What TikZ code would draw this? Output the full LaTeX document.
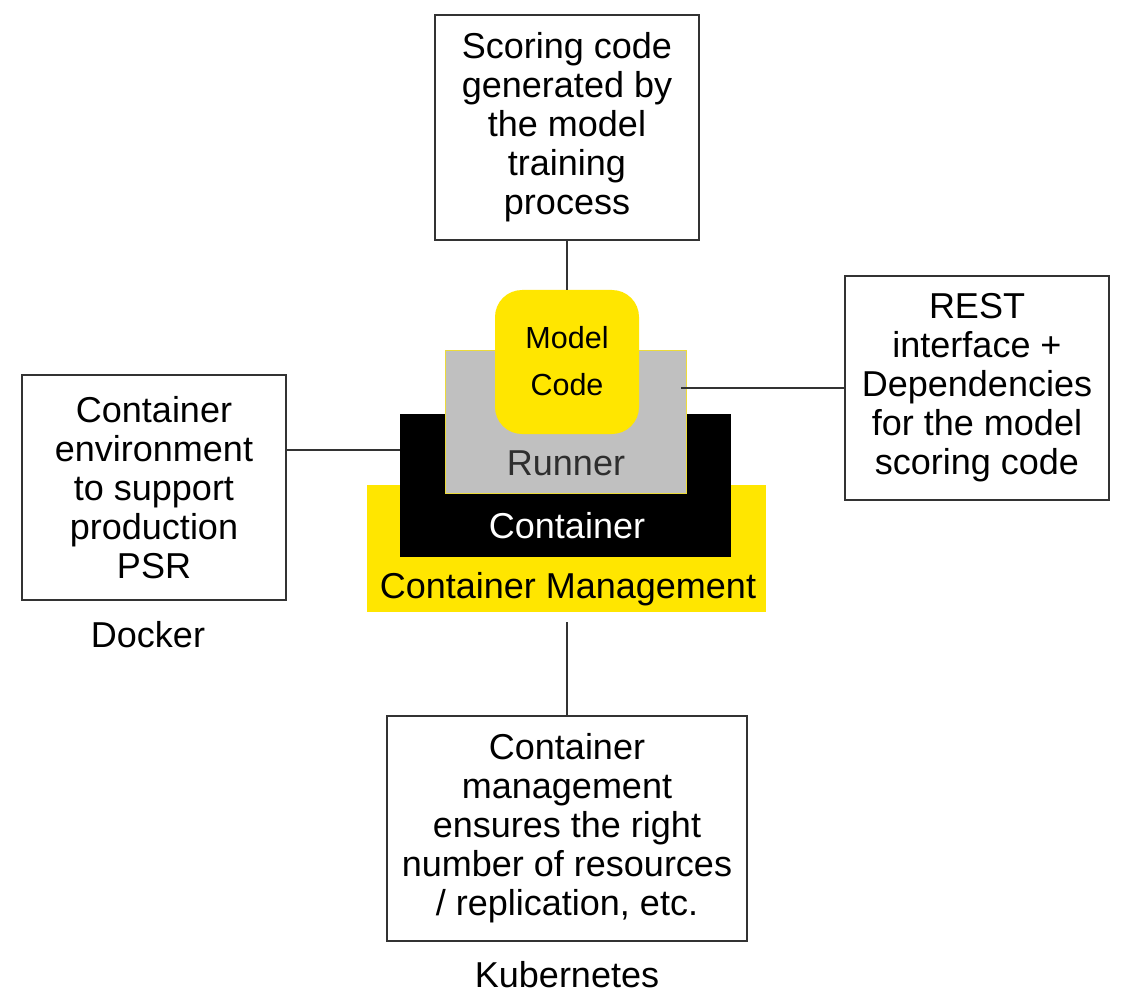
\documentclass[tikz,border=0pt]{standalone}
\usepackage{fontspec}
\setmainfont{Liberation Sans}
\definecolor{eyyellow}{HTML}{FFE600}
\definecolor{runnergray}{HTML}{C0C0C0}
\definecolor{linegray}{HTML}{333333}
\definecolor{runnertext}{HTML}{2E2E2E}
\begin{document}
\begin{tikzpicture}[x=1pt,y=-1pt,
  infobox/.style={draw=linegray, line width=1.2pt, fill=white, inner sep=0pt, align=center,
    font=\fontsize{36}{39}\selectfont},
  layer/.style={inner sep=0pt, draw=none},
  layertext/.style={anchor=base, inner sep=0pt, font=\fontsize{36}{39}\selectfont},
  conn/.style={draw=linegray, line width=1.2pt},
  plainlabel/.style={inner sep=0pt, font=\fontsize{36}{39}\selectfont}]
\useasboundingbox (0,0) rectangle (1132,1008);
\fill[white] (0,0) rectangle (1132,1008);

% central stack
\node[layer, fill=eyyellow, minimum width=399pt, minimum height=127pt] (cm) at (566.5,548.5) {};
\node[layer, fill=black, minimum width=331pt, minimum height=143pt] (cont) at (565.5,485.5) {};
\node[layer, fill=runnergray, draw=eyyellow!70!runnergray, line width=0.8pt, minimum width=241pt, minimum height=143pt] (runner) at (565.5,421.5) {};
\node[layer, fill=eyyellow, rounded corners=27pt, minimum width=144pt, minimum height=144pt] (model) at (567,362) {};

\node[inner sep=0pt, align=center, font=\fontsize{30.5}{47}\selectfont] (modeltext) at (567,361) {Model\\Code};
\node[layertext, text=runnertext] (runnertxt) at (566,475) {Runner};
\node[layertext, text=white] (conttxt) at (567,538) {Container};
\node[layertext, text=black] (cmtxt) at (568,598) {Container Management};

% info boxes
\node[infobox, minimum width=264pt, minimum height=225pt] (top) at (567,127.5)
  {Scoring code\\generated by\\the model\\training\\process};
\node[infobox, minimum width=264pt, minimum height=224pt] (right) at (977,388)
  {REST\\interface +\\Dependencies\\for the model\\scoring code};
\node[infobox, minimum width=264pt, minimum height=225pt] (left) at (154,487.5)
  {Container\\environment\\to support\\production\\PSR};
\node[infobox, minimum width=360pt, minimum height=225pt] (bottom) at (567,828.5)
  {Container\\management\\ensures the right\\number of resources\\/ replication, etc.};

\node[plainlabel] (docker) at (148,635) {Docker};
\node[plainlabel] (kube) at (567,975) {Kubernetes};

% connectors
\draw[conn] (top.south) -- (model.north);
\coordinate (rc) at (681,388);
\draw[conn] (rc) -- (right.west);
\coordinate (lc) at (400,450);
\draw[conn] (left.east |- lc) -- (lc);
\coordinate (bc) at (567,622);
\draw[conn] (bc) -- (bottom.north);
\end{tikzpicture}
\end{document}
